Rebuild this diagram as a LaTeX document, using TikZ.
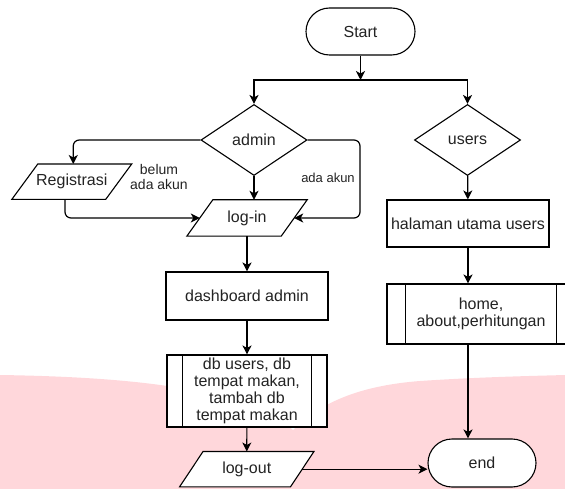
\documentclass[tikz,border=0pt]{standalone}
\usepackage{fontspec}
\setmainfont{Liberation Sans}
\usetikzlibrary{shapes.geometric,arrows.meta,calc}
\definecolor{pinkbg}{RGB}{255,215,219}
\definecolor{txt}{RGB}{35,35,35}
\pgfdeclarelayer{pinklayer}
\pgfdeclarelayer{shapelayer}
\pgfsetlayers{pinklayer,shapelayer,main}
\newcommand\drawpara[2]{%
  \begin{pgfonlayer}{shapelayer}
  \draw[line width=1.1pt, fill=white] ([xshift=#2]#1.north west) -- ([xshift=#2]#1.north east)
    -- ([xshift=-#2]#1.south east) -- ([xshift=-#2]#1.south west) -- cycle;
  \end{pgfonlayer}}
\begin{document}
\begin{tikzpicture}[x=1pt,y=-1pt,
  font=\fontsize{16}{17}\selectfont,
  shp/.style={draw=black, line width=1.1pt, fill=white, text=txt, inner sep=2pt, align=center},
  box/.style={shp, rectangle},
  term/.style={shp, rectangle, rounded corners=23.5pt},
  dec/.style={shp, diamond, inner sep=0pt},
  io/.style={rectangle, draw=none, text=txt, inner sep=0pt, align=center},
  arr/.style={draw=black, line width=1.2pt, -{Stealth[length=9pt,width=9pt,inset=2.5pt]}},
  lbl/.style={text=txt, align=center, inner sep=1pt}]
\useasboundingbox (0,0) rectangle (565,489);
% pink background
\begin{pgfonlayer}{pinklayer}
\fill[pinkbg] (0,489) -- (0,375) .. controls (130,377) and (245,388) .. (293,430)
  .. controls (318,405) and (355,386) .. (420,381)
  .. controls (480,377) and (530,376) .. (565,375) -- (565,489) -- cycle;
\end{pgfonlayer}
% nodes
\node[term, minimum width=109pt, minimum height=47pt] (start) at (360.5,31.5) {Start};
\coordinate (J) at (360.5,80);
\node[dec, minimum width=106pt, minimum height=71pt] (admin) at (254,140) {admin};
\node[dec, minimum width=106pt, minimum height=71pt] (users) at (467.5,140) {users};
\node[io, minimum width=93.5pt, minimum height=35pt] (reg) at (71.75,181.7) {Registrasi};
\drawpara{reg}{13pt}
\node[io, minimum width=94pt, minimum height=36pt] (login) at (247,218) {log-in};
\drawpara{login}{13pt}
\node[box, minimum width=162pt, minimum height=48pt] (dash) at (247,296) {dashboard admin};
\node[box, minimum width=160pt, minimum height=72pt] (db) at (247,391) {db users, db\\tempat makan,\\tambah db\\tempat makan};
\node[io, minimum width=110.5pt, minimum height=35pt] (logout) at (246.75,469.2) {log-out};
\drawpara{logout}{11.75pt}
\node[box, minimum width=162pt, minimum height=47pt] (hal) at (468,223.5) {halaman utama users};
\node[box, minimum width=188pt, minimum height=60pt] (home) at (481,314) {home,\\about,perhitungan};
\node[term, minimum width=108pt, minimum height=48pt, rounded corners=24pt] (end) at (482,463) {end};
% inner lines of process boxes
\draw[line width=1.1pt] ([xshift=16pt]db.north west) -- ([xshift=16pt]db.south west);
\draw[line width=1.1pt] ([xshift=-16pt]db.north east) -- ([xshift=-16pt]db.south east);
\draw[line width=1.1pt] ([xshift=19pt]home.north west) -- ([xshift=19pt]home.south west);
\draw[line width=1.1pt] ([xshift=-19pt]home.north east) -- ([xshift=-19pt]home.south east);
% labels
\node[lbl, font=\fontsize{14}{15}\selectfont] (lblA) at (159,177) {belum\\ada akun};
\node[lbl, font=\fontsize{13}{14}\selectfont] (lblB) at (328,178) {ada akun};
% connectors
\coordinate (rc) at (360,218);
\coordinate (lc) at (65,218);
\draw[arr] (start) -- (J);
\draw[arr] (J) -| (admin.north);
\draw[arr] (J) -| (users.north);
\draw[arr, rounded corners=6pt] (admin.west) -| ($(reg.north)+(1.5,0)$);
\draw[arr] (admin.south) -- (admin.south |- login.north);
\draw[arr, rounded corners=6pt] (admin.east) -| (rc) -- (login.east);
\draw[arr, rounded corners=6pt] (reg.south -| lc) -- (lc) -- (login.west);
\draw[arr] (login.south) -- (login.south |- dash.north);
\draw[arr] (dash) -- (db);
\draw[arr] (db) -- (logout);
\draw[arr] (logout.east) -- (logout.east -| end.west);
\draw[arr] (users) -- (hal);
\draw[arr] (hal.south) -- (hal.south |- home.north);
\draw[arr] (hal.south |- home.south) -- (hal.south |- end.north);
\end{tikzpicture}
\end{document}
